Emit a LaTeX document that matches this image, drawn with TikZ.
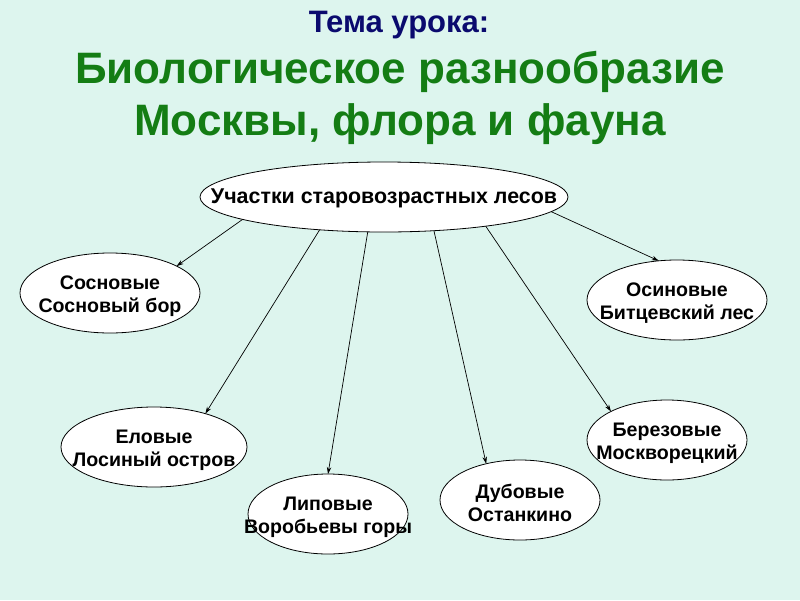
\documentclass[tikz,border=0pt]{standalone}
\usepackage{fontspec}
\setmainfont{Liberation Sans}
\usetikzlibrary{shapes.geometric,arrows.meta}
\definecolor{bg}{RGB}{221,245,238}
\definecolor{ttlgreen}{RGB}{20,125,20}
\definecolor{ttlblue}{RGB}{10,10,110}
\begin{document}
\begin{tikzpicture}[x=1pt,y=-1pt,
  oval/.style={ellipse,draw=black,line width=0.8pt,fill=white,inner sep=0pt,outer sep=0pt},
  otext/.style={font=\bfseries\fontsize{19.6}{23}\selectfont,align=center,text=black,yshift=-3pt},
  mtext/.style={font=\bfseries\fontsize{21.4}{24}\selectfont,text=black,yshift=-1.5pt},
  arr/.style={-{Stealth[length=7pt,width=4.5pt]},line width=0.7pt}]
\fill[bg] (0,0) rectangle (800,600);
\useasboundingbox (0,0) rectangle (800,600);
\node[font=\bfseries\fontsize{31}{36}\selectfont,text=ttlblue] (t1) at (399,25) {Тема урока:};
\node[font=\bfseries\fontsize{44}{52}\selectfont,text=ttlgreen,align=center] (t2) at (400,98) {Биологическое разнообразие\\Москвы, флора и фауна};

\node[oval,minimum width=368pt,minimum height=70pt,label={[mtext]center:Участки старовозрастных лесов}] (main) at (384,197) {};
\node[oval,minimum width=180pt,minimum height=80pt,label={[otext]center:{Сосновые\\Сосновый бор}}] (sos) at (110,293) {};
\node[oval,minimum width=180pt,minimum height=80pt,label={[otext]center:{Осиновые\\Битцевский лес}}] (osi) at (677,300) {};
\node[oval,minimum width=186pt,minimum height=80pt,label={[otext]center:{Еловые\\Лосиный остров}}] (elo) at (154,447) {};
\node[oval,minimum width=160pt,minimum height=80pt,label={[otext]center:{Липовые\\Воробьевы горы}}] (lip) at (328,514) {};
\node[oval,minimum width=160pt,minimum height=80pt,label={[otext]center:{Дубовые\\Останкино}}] (dub) at (520,500) {};
\node[oval,minimum width=160pt,minimum height=80pt,label={[otext]center:{Березовые\\Москворецкий}}] (ber) at (667,440) {};

\draw[arr] (main.189) -- (sos.22);
\draw[arr] (main.207) -- (elo.33);
\draw[arr] (main.245) -- (lip.90);
\draw[arr] (main.326) -- (dub.133);
\draw[arr] (main.344) -- (ber.153);
\draw[arr] (main.355) -- (osi.115);
\end{tikzpicture}
\end{document}
